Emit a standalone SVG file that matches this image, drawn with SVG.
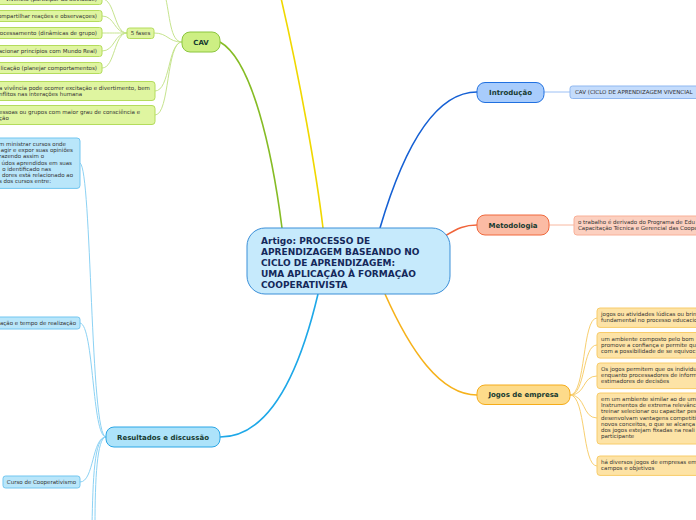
<svg xmlns="http://www.w3.org/2000/svg" width="696" height="520" viewBox="0 0 696 520">
<style>
.s{font-family:"DejaVu Sans",Verdana,sans-serif;font-size:5.5px;fill:#333}
.e{text-anchor:end}
.c{text-anchor:middle}
.m{font-family:"DejaVu Sans",Verdana,sans-serif;font-size:7px;font-weight:bold;fill:#163a30;text-anchor:middle}
.t{font-family:"DejaVu Sans",Verdana,sans-serif;font-size:9px;font-weight:bold;fill:#14285a}
.cn{fill:none}
.gc{fill:#dff5a0;stroke:#b4dc5c;stroke-width:1}
.bc{fill:#b9e6fa;stroke:#72c6f0;stroke-width:1}
.yc{fill:#fde3a6;stroke:#f8cc6a;stroke-width:1}
</style>
<rect width="696" height="520" fill="#ffffff"/>
<g id="connectors" class="cn">
<path d="M282,228 C272,150 252,60 220,42" stroke="#86bc25" stroke-width="1.6"/>
<path d="M323,228 C316,170 300,80 281,-2" stroke="#f0d800" stroke-width="1.6"/>
<path d="M380,228 C400,160 430,92 477,92" stroke="#1560d4" stroke-width="1.6"/>
<path d="M445,236 C458,228 465,225 477,225" stroke="#f0643a" stroke-width="1.6"/>
<path d="M385,294 C410,350 440,395 477,395" stroke="#f6b21b" stroke-width="1.6"/>
<path d="M318,294 C300,370 270,437 220,437" stroke="#1ea8e8" stroke-width="1.6"/>
<g stroke="#c6e48e" stroke-width="1">
<path d="M182,42 C170,42 170,15 165,-5"/>
<path d="M182,42 C168,42 168,33 154,33"/>
<path d="M182,42 C168,42 170,91 155,91"/>
<path d="M182,42 C166,42 170,115 155,115"/>
<path d="M127,33 C114,33 115,-1 102,-1"/>
<path d="M127,33 C114,33 115,16 102,16"/>
<path d="M127,33 C114,33 115,33 102,33"/>
<path d="M127,33 C114,33 115,51 102,51"/>
<path d="M127,33 C114,33 115,68 102,68"/>
</g>
<path d="M544,92 L570,92" stroke="#9cc0f5" stroke-width="1"/>
<path d="M549,225 L574,225" stroke="#f8b8a0" stroke-width="1"/>
<g stroke="#f8cf70" stroke-width="1">
<path d="M570,395 C586,395 582,318 597,318"/>
<path d="M570,395 C586,395 582,345 597,345"/>
<path d="M570,395 C586,395 582,376 597,376"/>
<path d="M570,395 C586,395 582,418 597,418"/>
<path d="M570,395 C586,395 582,466 597,466"/>
</g>
<g stroke="#8cd2f4" stroke-width="1">
<path d="M106,437 C90,437 92,170 80,163"/>
<path d="M106,437 C92,437 94,325 80,323"/>
<path d="M106,437 C92,437 94,482 80,482"/>
<path d="M106,437 C94,437 93,480 92,525"/>
<path d="M106,437 C97,437 95,480 95,525"/>
</g>
</g>
<g id="central">
<rect x="247" y="228" width="203" height="66" rx="18" fill="#c6eafc" stroke="#3b8fd8" stroke-width="1"/>
<text class="t" x="261" y="243.5">Artigo: PROCESSO DE</text>
<text class="t" x="261" y="254.5">APRENDIZAGEM BASEANDO NO</text>
<text class="t" x="261" y="265.5">CICLO DE APRENDIZAGEM:</text>
<text class="t" x="261" y="276.5">UMA APLICAÇÃO À FORMAÇÃO</text>
<text class="t" x="261" y="287.5">COOPERATIVISTA</text>
</g>
<g id="cav">
<rect x="182" y="32" width="38" height="20" rx="8" fill="#cdef83" stroke="#8cc63f" stroke-width="1"/>
<text class="m" x="201" y="44.5">CAV</text>
</g>
<g id="cinco-fases">
<rect x="127" y="28" width="27" height="10.5" rx="2.5" class="gc"/>
<text class="s c" x="140.5" y="35.2">5 fases</text>
</g>
<g id="fase1"><rect x="-20" y="-7" width="122" height="11.5" rx="2.5" class="gc"/><text class="s e" x="97" y="1.2">vivência (participar da atividade)</text></g>
<g id="fase2"><rect x="-20" y="10.5" width="122" height="11" rx="2.5" class="gc"/><text class="s e" x="97" y="18">ompartilhar reações e observaçoes)</text></g>
<g id="fase3"><rect x="-20" y="27.5" width="122" height="11" rx="2.5" class="gc"/><text class="s e" x="97" y="35">rocessamento (dinâmicas de grupo)</text></g>
<g id="fase4"><rect x="-20" y="45.5" width="122" height="11" rx="2.5" class="gc"/><text class="s e" x="97" y="53">acionar princípios com Mundo Real)</text></g>
<g id="fase5"><rect x="-20" y="62.5" width="122" height="11" rx="2.5" class="gc"/><text class="s e" x="97" y="70">licação (planejar comportamentos)</text></g>
<g id="cav-vivencia"><rect x="-20" y="81.5" width="175" height="19" rx="3" class="gc"/><text class="s" x="-1" y="89.5">a vivência pode ocorrer excitação e divertimento, bem</text><text class="s" x="-1" y="95.7">nflitos nas interações humana</text></g>
<g id="cav-consciencia"><rect x="-20" y="105.5" width="175" height="19" rx="3" class="gc"/><text class="s" x="-1" y="113.5">essoas ou grupos com maior grau de consciência e</text><text class="s" x="-1" y="119.7">ção</text></g>
<g id="introducao">
<rect x="477" y="82.5" width="67" height="20" rx="8" fill="#a8ccfc" stroke="#2070e0" stroke-width="1"/>
<text class="m" x="510.5" y="95">Introdução</text>
</g>
<g id="intro-cav"><rect x="570" y="86" width="140" height="12.5" rx="2.5" fill="#c4dcfc" stroke="#90b8f0" stroke-width="1"/><text class="s" x="575" y="94.3">CAV (CICLO DE APRENDIZAGEM VIVENCIAL</text></g>
<g id="metodologia">
<rect x="477" y="215" width="72" height="20" rx="8" fill="#fbbba4" stroke="#f0683c" stroke-width="1"/>
<text class="m" x="513" y="227.5">Metodologia</text>
</g>
<g id="metodologia-texto"><rect x="574" y="216" width="140" height="19" rx="3" fill="#fcd0c0" stroke="#f8b098" stroke-width="1"/><text class="s" x="578" y="224">o trabalho é derivado do Programa de Edu</text><text class="s" x="578" y="230.2">Capacitação Técnica e Gerencial das Coope</text></g>
<g id="jogos">
<rect x="477" y="385" width="93" height="19.5" rx="8" fill="#fddb8a" stroke="#f5ac1a" stroke-width="1"/>
<text class="m" x="523.5" y="397.2">Jogos de empresa</text>
</g>
<g id="jogos1"><rect x="597" y="308" width="120" height="19.4" rx="3" class="yc"/><text class="s" x="601" y="316">jogos ou atividades lúdicas ou brin</text><text class="s" x="601" y="322.2">fundamental no processo educacio</text></g>
<g id="jogos2"><rect x="597" y="332.5" width="120" height="25.6" rx="3" class="yc"/><text class="s" x="601" y="340.5">um ambiente composto pelo bom</text><text class="s" x="601" y="346.7">promove a confiança e permite qu</text><text class="s" x="601" y="352.9">com a possibilidade de se equivoc</text></g>
<g id="jogos3"><rect x="597" y="363" width="120" height="25.6" rx="3" class="yc"/><text class="s" x="601" y="371">Os jogos permitem que os individu</text><text class="s" x="601" y="377.2">enquanto processadores de inform</text><text class="s" x="601" y="383.4">estimadores de decisões</text></g>
<g id="jogos4"><rect x="597" y="393" width="120" height="51" rx="3" class="yc"/><text class="s" x="601" y="401">em um ambiente similar ao de um</text><text class="s" x="601" y="407.2">Instrumentos de extrema relevânc</text><text class="s" x="601" y="413.4">treinar selecionar ou capacitar pes</text><text class="s" x="601" y="419.6">desenvolvam vantagens competitiv</text><text class="s" x="601" y="425.8">novos conceitos, o que se alcança</text><text class="s" x="601" y="432">dos jogos estejam fixadas na reali</text><text class="s" x="601" y="438.2">participante</text></g>
<g id="jogos5"><rect x="597" y="456" width="120" height="19.4" rx="3" class="yc"/><text class="s" x="601" y="464">há diversos jogos de empresas em</text><text class="s" x="601" y="470.2">campos e objetivos</text></g>
<g id="resultados">
<rect x="106" y="427" width="114" height="20" rx="8" fill="#ade3fa" stroke="#2aa6e6" stroke-width="1"/>
<text class="m" x="163" y="439.5">Resultados e discussão</text>
</g>
<g id="res-cursos"><rect x="-20" y="138" width="100" height="50.4" rx="3" class="bc"/>
<text class="s e" x="66" y="146">m ministrar cursos onde</text>
<text class="s e" x="73" y="152.2">agir e expor suas opiniões</text>
<text class="s e" x="44" y="158.4">razendo assim o</text>
<text class="s e" x="72" y="164.6">údos aprendidos em suas</text>
<text class="s e" x="51" y="170.8">o identificado nas</text>
<text class="s e" x="73" y="177">dores está relacionado ao</text>
<text class="s e" x="51" y="183.2">s dos cursos entre:</text>
</g>
<g id="res-tempo"><rect x="-20" y="317" width="100" height="12" rx="2.5" class="bc"/><text class="s e" x="76" y="325">ação e tempo de realização</text></g>
<g id="res-curso"><rect x="3" y="476" width="77" height="12" rx="2.5" class="bc"/><text class="s c" x="41.5" y="484">Curso de Cooperativismo</text></g>
</svg>
